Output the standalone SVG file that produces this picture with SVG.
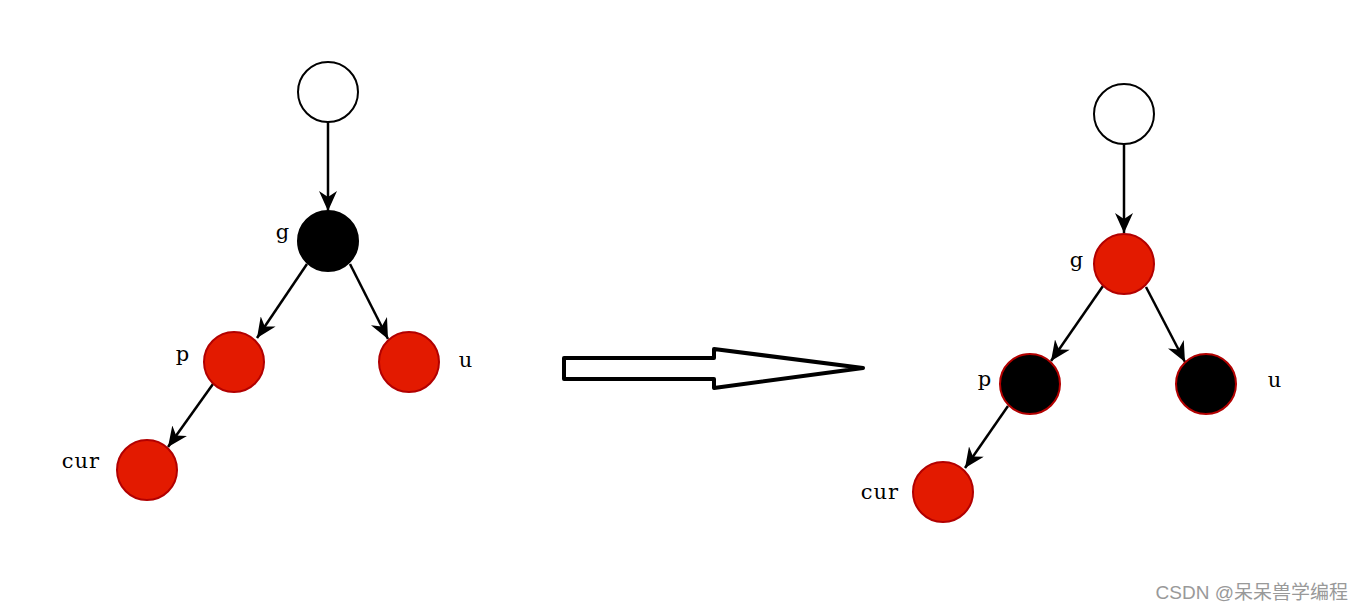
<svg xmlns="http://www.w3.org/2000/svg" width="1363" height="610" viewBox="0 0 1363 610">
<style>
.w{fill:#fff;stroke:#000;stroke-width:2}
.b{fill:#000;stroke:#000;stroke-width:2}
.bb{fill:#000;stroke:#b20000;stroke-width:2}
.r{fill:#e31a00;stroke:#b20000;stroke-width:2}
.lbl{font-family:"DejaVu Serif","Liberation Serif",serif;font-size:21px;letter-spacing:1px;fill:#000}
.e{stroke:#000;stroke-width:2.5;fill:none;marker-end:url(#ah)}
</style>
<defs>
<marker id="ah" markerUnits="userSpaceOnUse" markerWidth="22" markerHeight="18" refX="20" refY="9" orient="auto">
<path d="M0,0 L20,9 L0,18 L6,9 Z" fill="#000"/>
</marker>
</defs>
<rect width="1363" height="610" fill="#fff"/>
<g id="connectors">
<line class="e" x1="328" y1="122" x2="328" y2="211"/>
<line class="e" x1="307" y1="264" x2="257" y2="338"/>
<line class="e" x1="350" y1="264" x2="388" y2="339"/>
<line class="e" x1="213" y1="384" x2="168" y2="447"/>
<line class="e" x1="1124" y1="144" x2="1124" y2="233"/>
<line class="e" x1="1103" y1="286" x2="1051" y2="361"/>
<line class="e" x1="1146" y1="287" x2="1185" y2="362"/>
<line class="e" x1="1008" y1="406" x2="965" y2="468"/>
</g>
<g id="L-root"><circle class="w" cx="328" cy="92" r="30"/></g>
<g id="L-g"><circle class="b" cx="328" cy="241" r="30"/><text class="lbl" x="283" y="239" text-anchor="middle">g</text></g>
<g id="L-p"><circle class="r" cx="234" cy="362" r="30"/><text class="lbl" x="183" y="361" text-anchor="middle">p</text></g>
<g id="L-u"><circle class="r" cx="409" cy="362" r="30"/><text class="lbl" x="466" y="367" text-anchor="middle">u</text></g>
<g id="L-cur"><circle class="r" cx="147" cy="470" r="30"/><text class="lbl" x="81" y="468" text-anchor="middle">cur</text></g>
<g id="transform-arrow"><polygon points="564,358 714,358 714,349 863,368 714,388 714,379 564,379" fill="#fff" stroke="#000" stroke-width="4" stroke-linejoin="round"/></g>
<g id="R-root"><circle class="w" cx="1124" cy="114" r="30"/></g>
<g id="R-g"><circle class="r" cx="1124" cy="264" r="30"/><text class="lbl" x="1077" y="267" text-anchor="middle">g</text></g>
<g id="R-p"><circle class="bb" cx="1030" cy="384" r="30"/><text class="lbl" x="985" y="386" text-anchor="middle">p</text></g>
<g id="R-u"><circle class="bb" cx="1206" cy="384" r="30"/><text class="lbl" x="1275" y="387" text-anchor="middle">u</text></g>
<g id="R-cur"><circle class="r" cx="943" cy="492" r="30"/><text class="lbl" x="880" y="499" text-anchor="middle">cur</text></g>
<text x="1348" y="599" text-anchor="end" font-family="'Liberation Sans','Noto Sans CJK SC',sans-serif" font-size="19" fill="#999">CSDN @呆呆兽学编程</text>
</svg>
